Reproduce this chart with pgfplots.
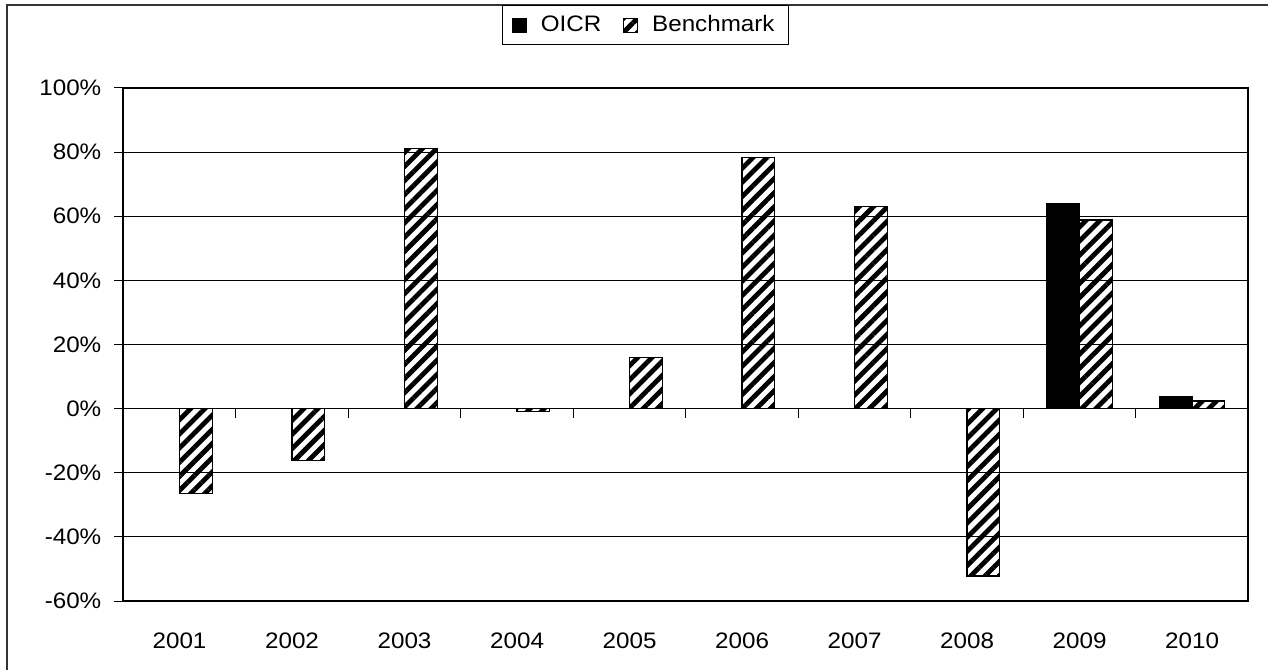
\documentclass[border=0pt]{standalone}
\usepackage{fontspec}
\setmainfont{Liberation Sans}[FakeStretch=1.08]
\usepackage{pgfplots}
\pgfplotsset{compat=1.18}
\usetikzlibrary{patterns.meta}

\pgfplotstableread{
x y
8 64.0
9 3.8
}\oicr
\pgfplotstableread{
x y
0 -26.4
1 -16.1
2 81.1
3 -0.8
4 16.0
5 78.3
6 63.0
7 -52.2
8 58.8
9 2.4
}\bench

\begin{document}
\begin{tikzpicture}[font=\fontsize{11.2}{13.4}\selectfont]
\useasboundingbox (0,0) rectangle (634pt,335pt);
\draw[line width=1pt, black!80] (3.6pt,0pt) -- (3.6pt,332.3pt) -- (634pt,332.3pt);
\begin{axis}[
  at={(61.65pt,34.5pt)}, anchor=south west,
  scale only axis, width=562.5pt, height=256.5pt,
  xmin=-0.5, xmax=9.5, ymin=-60, ymax=100,
  xtick={0,1,2,3,4,5,6,7,8,9},
  xticklabels={2001,2002,2003,2004,2005,2006,2007,2008,2009,2010},
  ytick={-60,-40,-20,0,20,40,60,80,100},
  yticklabels={-60\%,-40\%,-20\%,0\%,20\%,40\%,60\%,80\%,100\%},
  xtick style={draw=none},
  ytick style={black, line width=0.5pt},
  tick align=outside, major tick length=4.5pt,
  xtick pos=bottom, ytick pos=left,
  yticklabel style={xshift=-3pt},
  xticklabel style={yshift=-8pt},
  axis line style={black, line width=0.9pt},
  ymajorgrids, grid style={black, line width=0.5pt},
  ybar, bar width=0.29,
  legend style={at={(0.464,1.1618)}, anchor=north, legend columns=2,
    draw=black, line width=0.5pt, inner xsep=5pt, inner ysep=3pt,
    font=\fontsize{11.2}{13.4}\selectfont,
    /tikz/every odd column/.append style={column sep=5pt},
    /tikz/every even column/.append style={column sep=9pt}},
  legend image code/.code={\draw[#1, line width=0.4pt] (0pt,-3.5pt) rectangle (7pt,3.5pt);},
]
\addplot[fill=black, draw=black, line width=0.5pt, bar shift=-0.145] table[x=x,y=y]{\oicr};
\addlegendentry{OICR}
\addplot[draw=black, line width=0.6pt, pattern={Lines[angle=45,distance=5pt,line width=2.4pt]}, pattern color=black, bar shift=0.145] table[x=x,y=y]{\bench};
\addlegendentry{Benchmark}
\pgfplotsinvokeforeach{0.5,1.5,2.5,3.5,4.5,5.5,6.5,7.5,8.5}{
  \draw[black, line width=0.5pt] (axis cs:#1,0) -- ([yshift=-4.5pt]axis cs:#1,0);
}
\end{axis}
\end{tikzpicture}
\end{document}
